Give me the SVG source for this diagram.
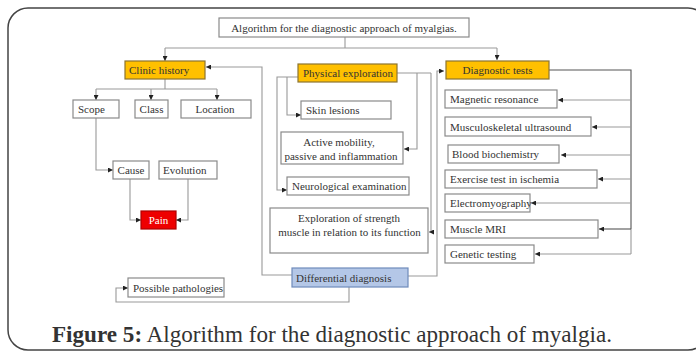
<svg xmlns="http://www.w3.org/2000/svg" width="696" height="360" viewBox="0 0 696 360">
<defs>
<marker id="ah" viewBox="0 0 6 6" refX="6" refY="3" markerWidth="5" markerHeight="5" markerUnits="userSpaceOnUse" orient="auto">
<path d="M0,0 L6,3 L0,6 z" fill="#222"/>
</marker>
<style>
.bx{fill:#fff;stroke:#8a8a8a;stroke-width:1.2}
.or{fill:#ffc000;stroke:#8c7430;stroke-width:1.2}
.bl{fill:#b4c7e7;stroke:#6f8bbb;stroke-width:1.2}
.rd{fill:#ee0000;stroke:#b00000;stroke-width:1.2}
text{font-family:"Liberation Serif","Times New Roman",serif;font-size:11px;fill:#333}
.c{text-anchor:middle}
.w{fill:#fff}
.cn path{fill:none;stroke:#999;stroke-width:1.1}
.cn path.a{marker-end:url(#ah)}
.cn path.d{stroke:#555}
.cap{font-family:"Liberation Serif","Times New Roman",serif;font-size:24px;fill:#333}
</style>
</defs>
<rect x="8" y="8" width="700" height="342" rx="20" fill="#fff" stroke="#444" stroke-width="1.5"/>

<g class="cn">
<path d="M345,37 V48"/>
<path d="M165,48 H497"/>
<path class="a" d="M165,48 V61"/>
<path class="a" d="M497,48 V60"/>
<path d="M165,79 V89"/>
<path d="M96,89 H217"/>
<path class="a" d="M96,89 V100"/>
<path class="a" d="M151,89 V100"/>
<path class="a" d="M217,89 V100"/>
<path class="a" d="M96,118 V170 H113"/>
<path class="a" d="M130,179 V220 H141"/>
<path class="a" d="M188,179 V220 H176"/>
<path class="a" d="M292,275 H262 V67 H206"/>
<path class="a" d="M408,276 H437 V71 H444"/>
<path class="a" d="M349,287 V302 H116 V288 H128"/>
<path class="a" d="M298,77 H277 V190 H287"/>
<path class="a" d="M287,77 V115 H301"/>
<path d="M397,73 H431"/>
<path class="a" d="M417,73 V149 H404"/>
<path class="a" d="M431,73 V232 H429"/>
<path class="d" d="M549,70 H631 V229"/>
<path d="M631,229 V254"/>
<path class="a" d="M631,100 H558"/>
<path class="a" d="M631,127 H592"/>
<path class="a" d="M631,155 H561"/>
<path class="a" d="M631,179 H598"/>
<path class="a" d="M631,203 H531"/>
<path class="a d" d="M631,229 H599"/>
<path class="a" d="M631,254 H535"/>
</g>

<g id="title"><rect class="bx" x="219" y="18" width="250" height="19"/><text class="c" x="344" y="31.5">Algorithm for the diagnostic approach of myalgias.</text></g>
<g id="clinic"><rect class="or" x="125" y="61" width="80" height="18"/><text x="129" y="74">Clinic history</text></g>
<g id="scope"><rect class="bx" x="73" y="100" width="46" height="18"/><text x="78" y="113">Scope</text></g>
<g id="class"><rect class="bx" x="135" y="100" width="33" height="18"/><text class="c" x="151.5" y="113">Class</text></g>
<g id="location"><rect class="bx" x="181" y="100" width="70" height="18"/><text class="c" x="215" y="113">Location</text></g>
<g id="cause"><rect class="bx" x="113" y="161" width="36" height="18"/><text class="c" x="131" y="174">Cause</text></g>
<g id="evolution"><rect class="bx" x="159" y="161" width="58" height="18"/><text x="163" y="174">Evolution</text></g>
<g id="pain"><rect class="rd" x="141" y="211" width="35" height="18"/><text class="c w" x="158.5" y="224">Pain</text></g>
<g id="pathologies"><rect class="bx" x="128" y="278" width="96" height="19"/><text x="133" y="291.5">Possible pathologies</text></g>
<g id="differential"><rect class="bl" x="292" y="268" width="116" height="19"/><text x="296" y="281.5">Differential diagnosis</text></g>
<g id="physical"><rect class="or" x="298" y="64" width="99" height="18"/><text x="303" y="77">Physical exploration</text></g>
<g id="skin"><rect class="bx" x="301" y="101" width="90" height="18"/><text x="306" y="114">Skin lesions</text></g>
<g id="mobility"><rect class="bx" x="281" y="132" width="122" height="32"/><text class="c" x="339" y="146">Active mobility,</text><text class="c" x="341" y="160">passive and inflammation</text></g>
<g id="neuro"><rect class="bx" x="287" y="177" width="122" height="18"/><text x="292" y="190">Neurological examination</text></g>
<g id="strength"><rect class="bx" x="270" y="208" width="158" height="45"/><text class="c" x="349" y="222">Exploration of strength</text><text class="c" x="349.5" y="236">muscle in relation to its function</text></g>
<g id="diagnostic"><rect class="or" x="446" y="61" width="103" height="18"/><text class="c" x="497.5" y="74">Diagnostic tests</text></g>
<g id="magnetic"><rect class="bx" x="445" y="90" width="112" height="18"/><text x="450" y="103">Magnetic resonance</text></g>
<g id="ultrasound"><rect class="bx" x="445" y="117" width="146" height="19"/><text x="450" y="130.5">Musculoskeletal ultrasound</text></g>
<g id="blood"><rect class="bx" x="448" y="145" width="111" height="18"/><text x="452" y="158">Blood biochemistry</text></g>
<g id="exercise"><rect class="bx" x="445" y="170" width="152" height="18"/><text x="450" y="183">Exercise test in ischemia</text></g>
<g id="emg"><rect class="bx" x="445" y="194" width="85" height="18"/><text x="450" y="207">Electromyography</text></g>
<g id="mri"><rect class="bx" x="445" y="220" width="153" height="18"/><text x="450" y="233">Muscle MRI</text></g>
<g id="genetic"><rect class="bx" x="445" y="245" width="89" height="18"/><text x="450" y="258">Genetic testing</text></g>

<text class="cap" x="52" y="342" textLength="560" lengthAdjust="spacingAndGlyphs"><tspan font-weight="bold">Figure 5:</tspan> Algorithm for the diagnostic approach of myalgia.</text>
</svg>
